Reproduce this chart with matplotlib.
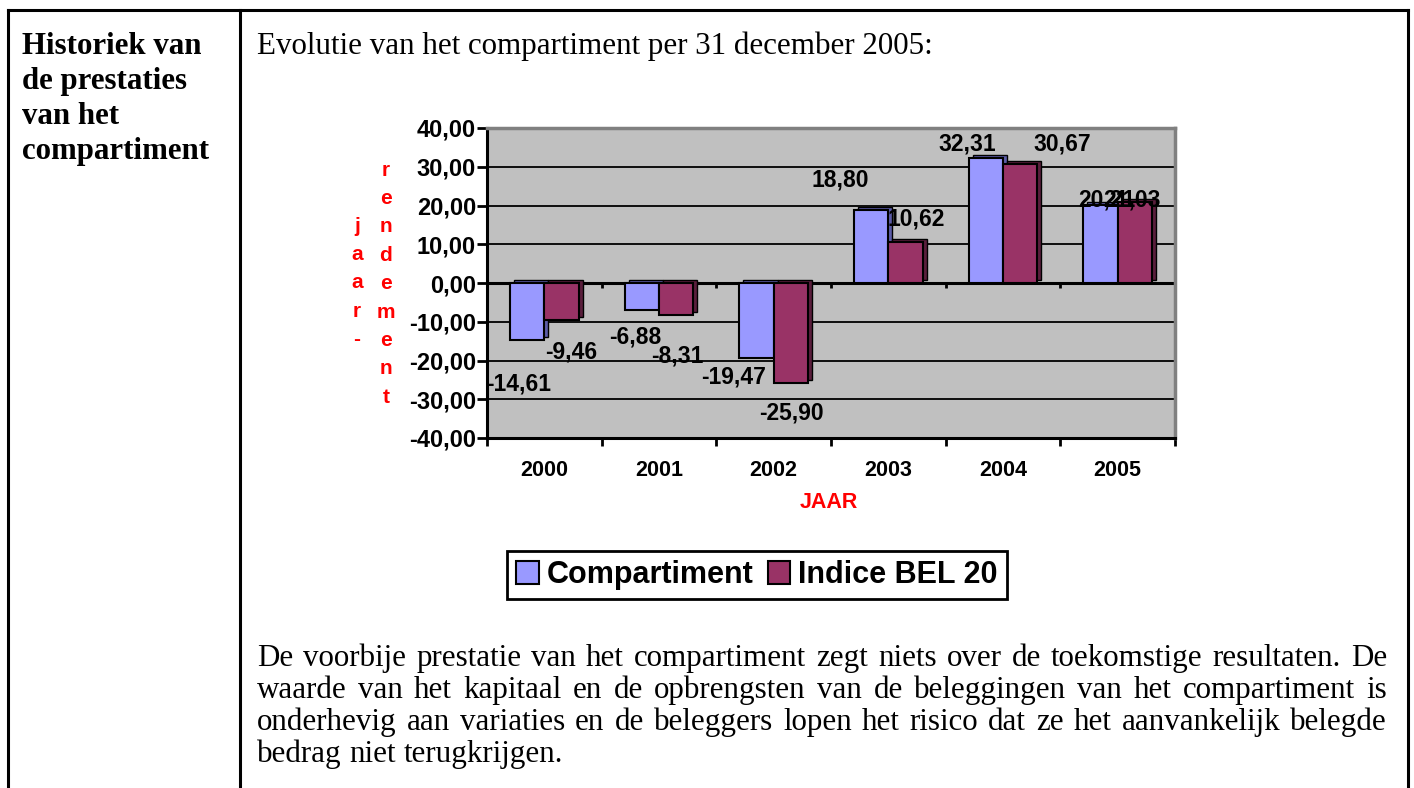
import numpy as np
import matplotlib.pyplot as plt
from matplotlib.lines import Line2D
from matplotlib.patches import Patch
from matplotlib.transforms import ScaledTranslation

# data
years = ['2000', '2001', '2002', '2003', '2004', '2005']
compartiment = [-14.61, -6.88, -19.47, 18.80, 32.31, 20.21]
bel20 = [-9.46, -8.31, -25.90, 10.62, 30.67, 21.03]
series_names = ['Compartiment', 'Indice BEL 20']

# label nudges (pixels) to mimic the excel 3d placement
comp_off = [(-9, -44), (-7, -27), (-23, -19), (-31, 30), (-19, 14), (6, 5)]
bel_off = [(10, -32), (1, -41), (1, -30), (11, 23), (42, 20), (-3, 2)]

header = ['Historiek van', 'de prestaties', 'van het', 'compartiment']
intro = 'Evolutie van het compartiment per 31 december 2005:'
para = ['De voorbije prestatie van het compartiment zegt niets over de toekomstige resultaten. De',
        'waarde van het kapitaal en de opbrengsten van de beleggingen van het compartiment is',
        'onderhevig aan variaties en de beleggers lopen het risico dat ze het aanvankelijk belegde',
        'bedrag niet terugkrijgen.']

plt.rcParams['font.family'] = 'Liberation Sans'

W, H = 1414, 788
fig = plt.figure(figsize=(W / 100, H / 100), dpi=100)

def fx(px):
    return px / W

def fy(py):
    return 1 - py / H

# table frame
for xs, ys in [([8, 1408], [10, 10]), ([8, 8], [10, 788]), ([1408, 1408], [10, 788]), ([240, 240], [10, 788])]:
    fig.add_artist(Line2D([fx(x) for x in xs], [fy(y) for y in ys], color='black', lw=2.2))

serif = 'Liberation Serif'
fs = 22.3
for k, line in enumerate(header):
    fig.text(fx(22), fy(54 + 35 * k), line, family=serif, weight='bold', fontsize=22.2, va='baseline')
fig.text(fx(257), fy(54), intro, family=serif, fontsize=fs, va='baseline')

# chart
ax = fig.add_axes([fx(487), fy(438), (1175 - 487) / W, (438 - 128) / H])
ax.set_facecolor('#c0c0c0')
ax.set_xlim(0, 6)
ax.set_ylim(-40, 40)
ax.set_axisbelow(True)
ax.yaxis.grid(True, color='black', lw=1.3)
ax.axhline(0, color='black', lw=2.2, zorder=1)
ax.vlines(range(7), -1.4, 0, color='black', lw=2, zorder=1)

x = np.arange(len(years)) + 0.5
w = 0.3
off = ScaledTranslation(4 / 100, 3 / 100, fig.dpi_scale_trans)
for vals, col, dark, shift, offs in [(compartiment, '#9999ff', '#5c5ca8', -w / 2, comp_off),
                                     (bel20, '#993366', '#5a1e3c', w / 2, bel_off)]:
    ax.bar(x + shift, vals, width=w, color=dark, edgecolor='black', lw=1,
           transform=ax.transData + off, zorder=2)
    ax.bar(x + shift, vals, width=w, color=col, edgecolor='black', lw=1.5, zorder=3)
    for xi, v, (dx, dy) in zip(x + shift, vals, offs):
        ax.annotate(f'{v:.2f}'.replace('.', ','), (xi, v), xytext=(dx, dy),
                    textcoords='offset pixels', ha='center', va='center',
                    fontsize=16.5, weight='bold', zorder=5)

ax.set_yticks(np.arange(-40, 41, 10))
ax.set_yticklabels([f'{v:.2f}'.replace('.', ',') for v in np.arange(-40, 41, 10)],
                   fontsize=17, weight='bold')
ax.tick_params(axis='y', direction='out', length=7, width=2, pad=1)
ax.set_xticks(range(7))
ax.set_xticklabels([])
ax.tick_params(axis='x', which='major', direction='out', length=6, width=2)
ax.set_xticks(x, minor=True)
ax.set_xticklabels(years, minor=True, fontsize=15.5, weight='bold')
ax.tick_params(axis='x', which='minor', length=0, pad=16)
for s in ['left', 'bottom']:
    ax.spines[s].set_linewidth(2.2)
for s in ['top', 'right']:
    ax.spines[s].set_color('#808080')
    ax.spines[s].set_linewidth(2.5)

fig.text(fx(829), fy(503), 'JAAR', color='red', weight='bold', fontsize=15.5, ha='center', va='center')

# stacked axis title
for k, ch in enumerate('jaar-'):
    fig.text(fx(357), fy(226 + 28.4 * k), ch, color='red', weight='bold', fontsize=15, ha='center', va='center')
for k, ch in enumerate('rendement'):
    fig.text(fx(386), fy(170 + 28.4 * k), ch, color='red', weight='bold', fontsize=15, ha='center', va='center')

handles = [Patch(facecolor='#9999ff', edgecolor='black', lw=1.5),
           Patch(facecolor='#993366', edgecolor='black', lw=1.5)]
leg = fig.legend(handles, series_names, loc='center', bbox_to_anchor=(fx(757), fy(575)), ncol=2,
                 prop={'family': 'Liberation Sans', 'weight': 'bold', 'size': 22},
                 fancybox=False, edgecolor='black', framealpha=1, handlelength=0.75, handleheight=0.75,
                 handletextpad=0.25, columnspacing=0.45, borderpad=0.3, borderaxespad=0)
leg.get_frame().set_linewidth(2)

# justified paragraph
r = fig.canvas.get_renderer()
x0, x1 = 257, 1387
for k, line in enumerate(para):
    words = line.split()
    texts = [fig.text(0, fy(666 + 32 * k), wd, family=serif, fontsize=fs, va='baseline') for wd in words]
    widths = [t.get_window_extent(r).width for t in texts]
    if k < len(para) - 1:
        gap = (x1 - x0 - sum(widths)) / (len(words) - 1)
    else:
        gap = fs * 0.25 * 100 / 72
    xp = x0
    for t, wd in zip(texts, widths):
        t.set_x(fx(xp))
        xp += wd + gap

fig.savefig('out.png', dpi=100)
